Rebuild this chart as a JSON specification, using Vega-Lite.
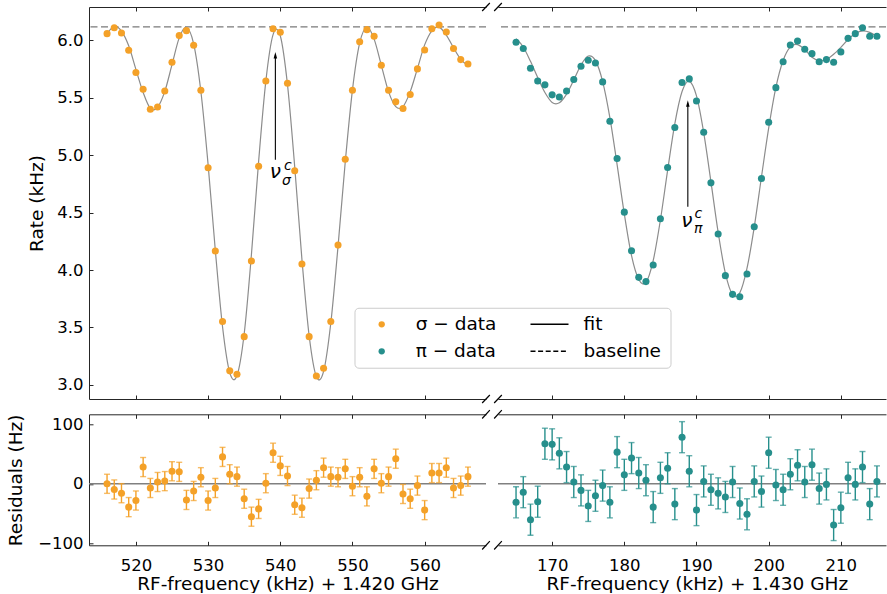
{
  "$schema": "https://vega.github.io/schema/vega-lite/v6.json",
  "background": "white",
  "padding": {"left": 6, "top": 2, "right": 0, "bottom": 0},
  "config": {
    "font": "DejaVu Sans",
    "view": {"stroke": null},
    "axis": {"grid": false, "domainColor": "#262626", "domainWidth": 1, "tickColor": "#262626", "tickSize": -4, "tickWidth": 1, "labelFontSize": 16.5, "labelColor": "#000", "titleFontSize": 18.5, "titleFontWeight": "normal", "titleColor": "#000", "labelPadding": 10, "labelFlush": false}
  },
  "datasets": {
    "sigma": [
      {"f":516,"r":6.058,"fit":6.058,"res":0,"err":16},
      {"f":517,"r":6.110,"fit":6.120,"res":-9.5,"err":16},
      {"f":518,"r":6.064,"fit":6.080,"res":-15.7,"err":16},
      {"f":519,"r":5.913,"fit":5.952,"res":-39,"err":16},
      {"f":520,"r":5.719,"fit":5.747,"res":-28,"err":16},
      {"f":521,"r":5.574,"fit":5.546,"res":28,"err":16},
      {"f":522,"r":5.400,"fit":5.407,"res":-7,"err":16},
      {"f":523,"r":5.420,"fit":5.417,"res":3,"err":16},
      {"f":524,"r":5.559,"fit":5.555,"res":4.5,"err":16},
      {"f":525,"r":5.809,"fit":5.788,"res":21,"err":16},
      {"f":526,"r":6.041,"fit":6.021,"res":20,"err":16},
      {"f":527,"r":6.084,"fit":6.111,"res":-27,"err":16},
      {"f":528,"r":5.957,"fit":5.969,"res":-12,"err":16},
      {"f":529,"r":5.565,"fit":5.554,"res":11,"err":16},
      {"f":530,"r":4.890,"fit":4.918,"res":-28,"err":16},
      {"f":531,"r":4.165,"fit":4.172,"res":-7,"err":16},
      {"f":532,"r":3.551,"fit":3.506,"res":45,"err":16},
      {"f":533,"r":3.122,"fit":3.106,"res":16,"err":16},
      {"f":534,"r":3.093,"fit":3.081,"res":12,"err":16},
      {"f":535,"r":3.420,"fit":3.445,"res":-25,"err":16},
      {"f":536,"r":4.078,"fit":4.133,"res":-55,"err":16},
      {"f":537,"r":4.904,"fit":4.946,"res":-42,"err":16},
      {"f":538,"r":5.646,"fit":5.645,"res":1,"err":16},
      {"f":539,"r":6.101,"fit":6.049,"res":52,"err":16},
      {"f":540,"r":6.070,"fit":6.040,"res":30,"err":16},
      {"f":541,"r":5.626,"fit":5.613,"res":13,"err":16},
      {"f":542,"r":4.864,"fit":4.899,"res":-35,"err":16},
      {"f":543,"r":4.052,"fit":4.092,"res":-40,"err":16},
      {"f":544,"r":3.420,"fit":3.428,"res":-8,"err":16},
      {"f":545,"r":3.078,"fit":3.072,"res":6,"err":16},
      {"f":546,"r":3.145,"fit":3.118,"res":27,"err":16},
      {"f":547,"r":3.551,"fit":3.539,"res":12,"err":16},
      {"f":548,"r":4.217,"fit":4.206,"res":11,"err":16},
      {"f":549,"r":4.965,"fit":4.940,"res":25,"err":16},
      {"f":550,"r":5.565,"fit":5.569,"res":-4,"err":16},
      {"f":551,"r":5.988,"fit":5.977,"res":11,"err":16},
      {"f":552,"r":6.093,"fit":6.114,"res":-21,"err":16},
      {"f":553,"r":6.035,"fit":6.010,"res":25,"err":16},
      {"f":554,"r":5.783,"fit":5.782,"res":1,"err":16},
      {"f":555,"r":5.565,"fit":5.553,"res":12,"err":16},
      {"f":556,"r":5.464,"fit":5.422,"res":42,"err":16},
      {"f":557,"r":5.406,"fit":5.423,"res":-17,"err":16},
      {"f":558,"r":5.528,"fit":5.553,"res":-25,"err":16},
      {"f":559,"r":5.751,"fit":5.754,"res":-3,"err":16},
      {"f":560,"r":5.916,"fit":5.960,"res":-44,"err":16},
      {"f":561,"r":6.101,"fit":6.083,"res":18,"err":16},
      {"f":562,"r":6.133,"fit":6.115,"res":18,"err":16},
      {"f":563,"r":6.072,"fit":6.045,"res":27,"err":16},
      {"f":564,"r":5.928,"fit":5.935,"res":-7,"err":16},
      {"f":565,"r":5.832,"fit":5.835,"res":-3,"err":16},
      {"f":566,"r":5.794,"fit":5.782,"res":12,"err":16}
    ],
    "pi": [
      {"f":165,"r":5.983,"fit":6.014,"res":-31,"err":26},
      {"f":166,"r":5.928,"fit":5.942,"res":-14,"err":26},
      {"f":167,"r":5.757,"fit":5.817,"res":-60,"err":26},
      {"f":168,"r":5.646,"fit":5.676,"res":-30,"err":26},
      {"f":169,"r":5.612,"fit":5.545,"res":67,"err":26},
      {"f":170,"r":5.525,"fit":5.459,"res":66,"err":26},
      {"f":171,"r":5.507,"fit":5.456,"res":51,"err":26},
      {"f":172,"r":5.559,"fit":5.531,"res":28,"err":26},
      {"f":173,"r":5.658,"fit":5.655,"res":3,"err":26},
      {"f":174,"r":5.774,"fit":5.785,"res":-11,"err":26},
      {"f":175,"r":5.826,"fit":5.863,"res":-37,"err":26},
      {"f":176,"r":5.803,"fit":5.823,"res":-20,"err":26},
      {"f":177,"r":5.638,"fit":5.641,"res":-3,"err":26},
      {"f":178,"r":5.296,"fit":5.327,"res":-31,"err":26},
      {"f":179,"r":4.971,"fit":4.918,"res":53,"err":26},
      {"f":180,"r":4.504,"fit":4.489,"res":15,"err":26},
      {"f":181,"r":4.168,"fit":4.125,"res":43,"err":26},
      {"f":182,"r":3.936,"fit":3.918,"res":18,"err":26},
      {"f":183,"r":3.899,"fit":3.893,"res":6,"err":26},
      {"f":184,"r":4.043,"fit":4.082,"res":-39,"err":26},
      {"f":185,"r":4.446,"fit":4.436,"res":10,"err":26},
      {"f":186,"r":4.893,"fit":4.867,"res":26,"err":26},
      {"f":187,"r":5.241,"fit":5.275,"res":-34,"err":26},
      {"f":188,"r":5.632,"fit":5.554,"res":78,"err":26},
      {"f":189,"r":5.664,"fit":5.643,"res":21,"err":26},
      {"f":190,"r":5.472,"fit":5.516,"res":-44,"err":26},
      {"f":191,"r":5.200,"fit":5.196,"res":4,"err":26},
      {"f":192,"r":4.759,"fit":4.769,"res":-10,"err":26},
      {"f":193,"r":4.313,"fit":4.329,"res":-16,"err":26},
      {"f":194,"r":3.951,"fit":3.973,"res":-22,"err":26},
      {"f":195,"r":3.788,"fit":3.785,"res":3,"err":26},
      {"f":196,"r":3.768,"fit":3.801,"res":-33,"err":26},
      {"f":197,"r":3.965,"fit":4.016,"res":-51,"err":26},
      {"f":198,"r":4.377,"fit":4.373,"res":4,"err":26},
      {"f":199,"r":4.797,"fit":4.810,"res":-13,"err":26},
      {"f":200,"r":5.287,"fit":5.235,"res":52,"err":26},
      {"f":201,"r":5.588,"fit":5.590,"res":-2,"err":26},
      {"f":202,"r":5.814,"fit":5.824,"res":-10,"err":26},
      {"f":203,"r":5.959,"fit":5.943,"res":16,"err":26},
      {"f":204,"r":5.994,"fit":5.963,"res":31,"err":26},
      {"f":205,"r":5.922,"fit":5.919,"res":3,"err":26},
      {"f":206,"r":5.884,"fit":5.852,"res":32,"err":26},
      {"f":207,"r":5.814,"fit":5.822,"res":-8,"err":26},
      {"f":208,"r":5.832,"fit":5.833,"res":-1,"err":26},
      {"f":209,"r":5.809,"fit":5.878,"res":-69,"err":26},
      {"f":210,"r":5.899,"fit":5.939,"res":-40,"err":26},
      {"f":211,"r":6.017,"fit":6.007,"res":10,"err":26},
      {"f":212,"r":6.058,"fit":6.059,"res":-1,"err":26},
      {"f":213,"r":6.110,"fit":6.082,"res":28,"err":26},
      {"f":214,"r":6.035,"fit":6.069,"res":-34,"err":26},
      {"f":215,"r":6.035,"fit":6.031,"res":4,"err":26}
    ],
    "dataEntries": [
      {"entry": "σ − data"},
      {"entry": "π − data"}
    ],
    "lineEntries": [
      {"entry": "fit"},
      {"entry": "baseline"}
    ]
  },
  "columns": 2,
  "bounds": "flush",
  "spacing": {"row": 15.3, "column": 12},
  "concat": [
    {
      "width": 397,
      "height": 392,
      "resolve": {"axis": {"x": "independent"}},
      "layer": [
        {
          "data": {"name": "sigma"},
          "mark": {"type": "line", "color": "#8c8c8c", "strokeWidth": 1.2, "interpolate": "cardinal"},
          "encoding": {
            "x": {"field": "f", "type": "quantitative", "scale": {"domain": [513.5, 568.5], "nice": false, "zero": false}, "axis": {"orient": "top", "labels": false, "values": [520, 530, 540, 550, 560], "title": null}},
            "y": {"field": "fit", "type": "quantitative", "scale": {"domain": [2.877, 6.29], "nice": false, "zero": false}, "axis": {"values": [3, 3.5, 4, 4.5, 5, 5.5, 6], "format": ".1f", "title": "Rate (kHz)", "titlePadding": 10}}
          }
        },
        {
          "data": {"values": [{}]},
          "mark": {"type": "rule", "color": "#7a7a7a", "strokeWidth": 1.3, "strokeDash": [7, 3.5]},
          "encoding": {"y": {"datum": 6.117, "type": "quantitative", "title": "Rate (kHz)"}}
        },
        {
          "data": {"name": "sigma"},
          "mark": {"type": "circle", "size": 50, "color": "#f4a128", "opacity": 1},
          "encoding": {
            "x": {"field": "f", "type": "quantitative", "axis": {"orient": "bottom", "labels": false, "values": [520, 530, 540, 550, 560], "title": null}},
            "y": {"field": "r", "type": "quantitative", "title": "Rate (kHz)"}
          }
        },
        {
          "data": {"values": [{}]},
          "mark": {"type": "rule", "color": "#000", "strokeWidth": 1.1},
          "encoding": {
            "x": {"datum": 539.32, "type": "quantitative", "axis": null},
            "y": {"datum": 4.96, "type": "quantitative", "title": "Rate (kHz)"},
            "y2": {"datum": 5.87}
          }
        },
        {
          "data": {"values": [{}]},
          "mark": {"type": "point", "shape": "M0,-1L0.55,1L-0.55,1Z", "size": 40, "filled": true, "color": "#000", "opacity": 1},
          "encoding": {
            "x": {"datum": 539.32, "type": "quantitative", "axis": null},
            "y": {"datum": 5.87, "type": "quantitative", "title": "Rate (kHz)"}
          }
        },
        {
          "data": {"values": [{}]},
          "mark": {"type": "text", "text": "ν", "fontStyle": "italic", "fontSize": 20, "baseline": "alphabetic", "align": "center", "color": "#000"},
          "encoding": {
            "x": {"datum": 539.32, "type": "quantitative", "axis": null},
            "y": {"datum": 4.80, "type": "quantitative", "title": "Rate (kHz)"}
          }
        },
        {
          "data": {"values": [{}]},
          "mark": {"type": "text", "text": "c", "fontStyle": "italic", "fontSize": 14, "baseline": "alphabetic", "align": "center", "dx": 12.5, "dy": -8, "color": "#000"},
          "encoding": {
            "x": {"datum": 539.32, "type": "quantitative", "axis": null},
            "y": {"datum": 4.80, "type": "quantitative", "title": "Rate (kHz)"}
          }
        },
        {
          "data": {"values": [{}]},
          "mark": {"type": "text", "text": "σ", "fontStyle": "italic", "fontSize": 14, "baseline": "alphabetic", "align": "center", "dx": 11, "dy": 7, "color": "#000"},
          "encoding": {
            "x": {"datum": 539.32, "type": "quantitative", "axis": null},
            "y": {"datum": 4.80, "type": "quantitative", "title": "Rate (kHz)"}
          }
        },
        {
          "data": {"values": [{}]},
          "mark": {"type": "rule", "color": "#000", "strokeWidth": 1.2},
          "encoding": {
            "x": {"datum": 567.97, "type": "quantitative", "axis": null},
            "x2": {"datum": 569.03},
            "y": {"datum": 6.255, "type": "quantitative", "title": "Rate (kHz)"},
            "y2": {"datum": 6.325}
          }
        },
        {
          "data": {"values": [{}]},
          "mark": {"type": "rule", "color": "#000", "strokeWidth": 1.2},
          "encoding": {
            "x": {"datum": 567.97, "type": "quantitative", "axis": null},
            "x2": {"datum": 569.03},
            "y": {"datum": 2.842, "type": "quantitative", "title": "Rate (kHz)"},
            "y2": {"datum": 2.912}
          }
        },
        {
          "data": {"values": [{}]},
          "mark": {"type": "rect", "fill": "#ffffff", "fillOpacity": 0.8, "stroke": "#cccccc", "strokeWidth": 1, "cornerRadius": 4},
          "encoding": {
            "x": {"datum": 550.35, "type": "quantitative", "axis": null},
            "x2": {"datum": 594.13},
            "y": {"datum": 3.667, "type": "quantitative", "title": "Rate (kHz)"},
            "y2": {"datum": 3.145}
          }
        },
        {
          "data": {"name": "dataEntries"},
          "mark": {"type": "point", "filled": true},
          "encoding": {
            "x": {"field": "f", "type": "quantitative", "axis": null},
            "y": {"field": "r", "type": "quantitative", "title": "Rate (kHz)"},
            "color": {
              "field": "entry", "type": "nominal",
              "scale": {"domain": ["σ − data", "π − data"], "range": ["#f4a128", "#268f8c"]},
              "legend": {
                "orient": "none", "legendX": 283.45, "legendY": 307.3,
                "title": null, "direction": "vertical",
                "symbolType": "circle", "symbolSize": 40, "symbolStrokeWidth": 0, "symbolOpacity": 1,
                "labelFont": "DejaVu Sans", "labelFontSize": 18.5, "labelColor": "#000", "labelOffset": 24.75, "labelLimit": 300,
                "rowPadding": 7, "clipHeight": 20, "padding": 0
              }
            }
          }
        },
        {
          "data": {"name": "lineEntries"},
          "mark": {"type": "line", "color": "#000000", "strokeWidth": 1.5},
          "encoding": {
            "x": {"field": "f", "type": "quantitative", "axis": null},
            "y": {"field": "r", "type": "quantitative", "title": "Rate (kHz)"},
            "strokeDash": {
              "field": "entry", "type": "nominal",
              "scale": {"domain": ["fit", "baseline"], "range": [[1, 0], [5, 2.6]]},
              "legend": {
                "orient": "none", "legendX": 440.5, "legendY": 307.3,
                "title": null, "direction": "vertical",
                "symbolType": "stroke", "symbolSize": 1444, "symbolStrokeWidth": 1.5, "symbolStrokeColor": "#000000", "symbolOpacity": 1,
                "labelFont": "DejaVu Sans", "labelFontSize": 18.5, "labelColor": "#000", "labelOffset": 14, "labelLimit": 300,
                "rowPadding": 7, "clipHeight": 20, "padding": 0
              }
            }
          }
        }
      ]
    },
    {
      "width": 388,
      "height": 392,
      "resolve": {"axis": {"x": "independent"}},
      "layer": [
        {
          "data": {"name": "pi"},
          "mark": {"type": "line", "color": "#8c8c8c", "strokeWidth": 1.2, "interpolate": "cardinal"},
          "encoding": {
            "x": {"field": "f", "type": "quantitative", "scale": {"domain": [162.5, 216.255], "nice": false, "zero": false}, "axis": {"orient": "top", "labels": false, "values": [170, 180, 190, 200, 210], "title": null}},
            "y": {"field": "fit", "type": "quantitative", "scale": {"domain": [2.877, 6.29], "nice": false, "zero": false}, "axis": null}
          }
        },
        {
          "data": {"values": [{}]},
          "mark": {"type": "rule", "color": "#7a7a7a", "strokeWidth": 1.3, "strokeDash": [7, 3.5]},
          "encoding": {"y": {"datum": 6.117, "type": "quantitative", "axis": null}}
        },
        {
          "data": {"name": "pi"},
          "mark": {"type": "circle", "size": 50, "color": "#268f8c", "opacity": 1},
          "encoding": {
            "x": {"field": "f", "type": "quantitative", "axis": {"orient": "bottom", "labels": false, "values": [170, 180, 190, 200, 210], "title": null}},
            "y": {"field": "r", "type": "quantitative", "axis": null}
          }
        },
        {
          "data": {"values": [{}]},
          "mark": {"type": "rule", "color": "#000", "strokeWidth": 1.1},
          "encoding": {
            "x": {"datum": 188.8, "type": "quantitative", "axis": null},
            "y": {"datum": 4.55, "type": "quantitative", "axis": null},
            "y2": {"datum": 5.45}
          }
        },
        {
          "data": {"values": [{}]},
          "mark": {"type": "point", "shape": "M0,-1L0.55,1L-0.55,1Z", "size": 40, "filled": true, "color": "#000", "opacity": 1},
          "encoding": {
            "x": {"datum": 188.8, "type": "quantitative", "axis": null},
            "y": {"datum": 5.45, "type": "quantitative", "axis": null}
          }
        },
        {
          "data": {"values": [{}]},
          "mark": {"type": "text", "text": "ν", "fontStyle": "italic", "fontSize": 20, "baseline": "alphabetic", "align": "center", "dx": -1, "color": "#000"},
          "encoding": {
            "x": {"datum": 188.8, "type": "quantitative", "axis": null},
            "y": {"datum": 4.377, "type": "quantitative", "axis": null}
          }
        },
        {
          "data": {"values": [{}]},
          "mark": {"type": "text", "text": "c", "fontStyle": "italic", "fontSize": 14, "baseline": "alphabetic", "align": "center", "dx": 10.5, "dy": -8.5, "color": "#000"},
          "encoding": {
            "x": {"datum": 188.8, "type": "quantitative", "axis": null},
            "y": {"datum": 4.377, "type": "quantitative", "axis": null}
          }
        },
        {
          "data": {"values": [{}]},
          "mark": {"type": "text", "text": "π", "fontStyle": "italic", "fontSize": 14, "baseline": "alphabetic", "align": "center", "dx": 10.5, "dy": 6.5, "color": "#000"},
          "encoding": {
            "x": {"datum": 188.8, "type": "quantitative", "axis": null},
            "y": {"datum": 4.377, "type": "quantitative", "axis": null}
          }
        },
        {
          "data": {"values": [{}]},
          "mark": {"type": "rule", "color": "#000", "strokeWidth": 1.2},
          "encoding": {
            "x": {"datum": 161.97, "type": "quantitative", "axis": null},
            "x2": {"datum": 163.03},
            "y": {"datum": 6.255, "type": "quantitative", "axis": null},
            "y2": {"datum": 6.325}
          }
        },
        {
          "data": {"values": [{}]},
          "mark": {"type": "rule", "color": "#000", "strokeWidth": 1.2},
          "encoding": {
            "x": {"datum": 161.97, "type": "quantitative", "axis": null},
            "x2": {"datum": 163.03},
            "y": {"datum": 2.842, "type": "quantitative", "axis": null},
            "y2": {"datum": 2.912}
          }
        }
      ]
    },
    {
      "width": 397,
      "height": 131,
      "resolve": {"axis": {"x": "independent"}},
      "layer": [
        {
          "data": {"values": [{}]},
          "mark": {"type": "rule", "color": "#808080", "strokeWidth": 1.5},
          "encoding": {"y": {"datum": 0, "type": "quantitative", "title": "Residuals (Hz)"}}
        },
        {
          "data": {"name": "sigma"},
          "mark": {"type": "errorbar", "color": "#f4a128", "thickness": 1.4, "ticks": {"size": 6, "thickness": 1.4}},
          "encoding": {
            "x": {"field": "f", "type": "quantitative", "scale": {"domain": [513.5, 568.5], "nice": false, "zero": false}, "axis": {"orient": "top", "labels": false, "values": [520, 530, 540, 550, 560], "title": null}},
            "y": {"field": "res", "type": "quantitative", "scale": {"domain": [-102.9, 116.3], "nice": false, "zero": false}, "title": "Residuals (Hz)"},
            "yError": {"field": "err"}
          }
        },
        {
          "data": {"name": "sigma"},
          "mark": {"type": "circle", "size": 50, "color": "#f4a128", "opacity": 1},
          "encoding": {
            "x": {"field": "f", "type": "quantitative", "axis": {"orient": "bottom", "values": [520, 530, 540, 550, 560], "title": "RF-frequency (kHz) + 1.420 GHz", "labelPadding": 16.5, "titlePadding": 0}},
            "y": {"field": "res", "type": "quantitative", "axis": {"values": [-100, 0, 100], "title": "Residuals (Hz)", "titlePadding": 12}}
          }
        },
        {
          "data": {"values": [{}]},
          "mark": {"type": "rule", "color": "#000", "strokeWidth": 1.2},
          "encoding": {
            "x": {"datum": 567.97, "type": "quantitative", "axis": null},
            "x2": {"datum": 569.03},
            "y": {"datum": 109.3, "type": "quantitative", "title": "Residuals (Hz)"},
            "y2": {"datum": 123.3}
          }
        },
        {
          "data": {"values": [{}]},
          "mark": {"type": "rule", "color": "#000", "strokeWidth": 1.2},
          "encoding": {
            "x": {"datum": 567.97, "type": "quantitative", "axis": null},
            "x2": {"datum": 569.03},
            "y": {"datum": -109.9, "type": "quantitative", "title": "Residuals (Hz)"},
            "y2": {"datum": -95.9}
          }
        }
      ]
    },
    {
      "width": 388,
      "height": 131,
      "resolve": {"axis": {"x": "independent"}},
      "layer": [
        {
          "data": {"values": [{}]},
          "mark": {"type": "rule", "color": "#808080", "strokeWidth": 1.5},
          "encoding": {"y": {"datum": 0, "type": "quantitative", "axis": null}}
        },
        {
          "data": {"name": "pi"},
          "mark": {"type": "errorbar", "color": "#268f8c", "thickness": 1.4, "ticks": {"size": 6, "thickness": 1.4}},
          "encoding": {
            "x": {"field": "f", "type": "quantitative", "scale": {"domain": [162.5, 216.255], "nice": false, "zero": false}, "axis": {"orient": "top", "labels": false, "values": [170, 180, 190, 200, 210], "title": null}},
            "y": {"field": "res", "type": "quantitative", "scale": {"domain": [-102.9, 116.3], "nice": false, "zero": false}, "axis": null},
            "yError": {"field": "err"}
          }
        },
        {
          "data": {"name": "pi"},
          "mark": {"type": "circle", "size": 50, "color": "#268f8c", "opacity": 1},
          "encoding": {
            "x": {"field": "f", "type": "quantitative", "axis": {"orient": "bottom", "values": [170, 180, 190, 200, 210], "title": "RF-frequency (kHz) + 1.430 GHz", "labelPadding": 16.5, "titlePadding": 0, "titleX": 198.8}},
            "y": {"field": "res", "type": "quantitative", "axis": null}
          }
        },
        {
          "data": {"values": [{}]},
          "mark": {"type": "rule", "color": "#000", "strokeWidth": 1.2},
          "encoding": {
            "x": {"datum": 161.97, "type": "quantitative", "axis": null},
            "x2": {"datum": 163.03},
            "y": {"datum": 109.3, "type": "quantitative", "axis": null},
            "y2": {"datum": 123.3}
          }
        },
        {
          "data": {"values": [{}]},
          "mark": {"type": "rule", "color": "#000", "strokeWidth": 1.2},
          "encoding": {
            "x": {"datum": 161.97, "type": "quantitative", "axis": null},
            "x2": {"datum": 163.03},
            "y": {"datum": -109.9, "type": "quantitative", "axis": null},
            "y2": {"datum": -95.9}
          }
        }
      ]
    }
  ]
}
